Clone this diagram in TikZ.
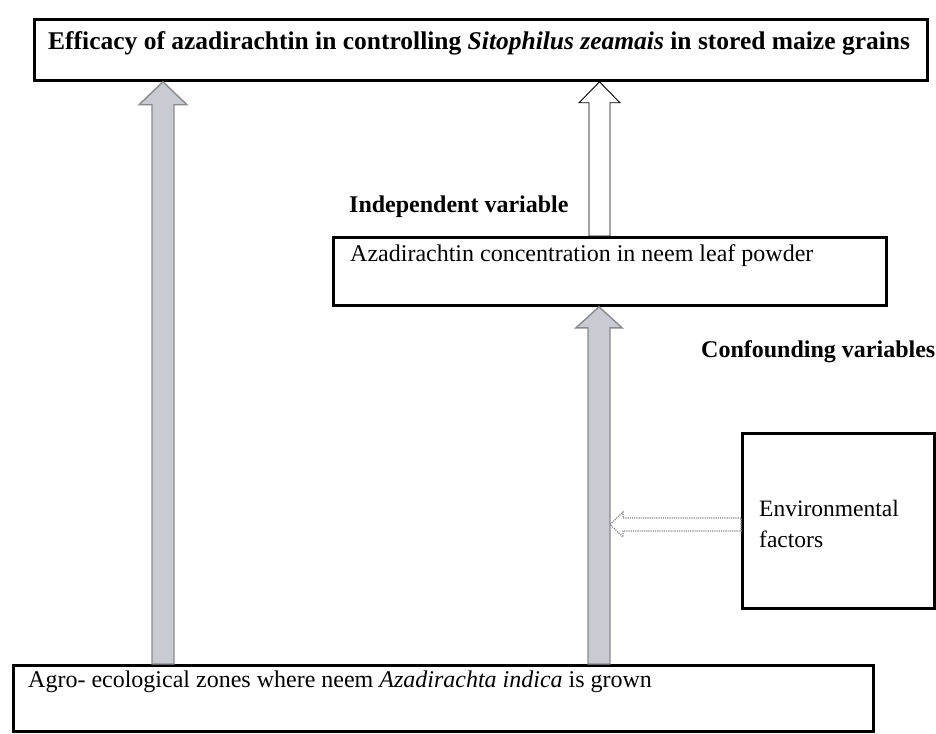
\documentclass[tikz,border=0pt]{standalone}
\usepackage{fontspec}
\setmainfont{Liberation Serif}
\usetikzlibrary{calc}
\newcommand\FatUp[6]{% style, from, tip, shaft half, head half, head length
  \draw[#1] let \p1=(#2), \p2=(#3) in
    (\x1-#4pt,\y1) -- (\x1-#4pt,\y2-#6pt) -- (\x1-#5pt,\y2-#6pt) -- (\x1,\y2)
    -- (\x1+#5pt,\y2-#6pt) -- (\x1+#4pt,\y2-#6pt) -- (\x1+#4pt,\y1) -- cycle;}
\newcommand\FatLeft[6]{% style, from, tip, shaft half, head half, head length
  \draw[#1] let \p1=(#2), \p2=(#3) in
    (\x1,\y1+#4pt) -- (\x2+#6pt,\y1+#4pt) -- (\x2+#6pt,\y1+#5pt) -- (\x2,\y1)
    -- (\x2+#6pt,\y1-#5pt) -- (\x2+#6pt,\y1-#4pt) -- (\x1,\y1-#4pt) -- cycle;}
\definecolor{arrfill}{HTML}{C9CBD2}
\definecolor{arredge}{HTML}{8A8A8A}
\begin{document}
\begin{tikzpicture}[x=1pt,y=-1pt,
  box/.style={draw=black,line width=2.8pt,fill=none,inner sep=0pt,anchor=north west},
  txt/.style={anchor=base west,inner sep=0pt,font=\fontsize{24}{28}\selectfont},
  btxt/.style={txt,font=\fontsize{24}{28}\selectfont\bfseries},
  grayarrow/.style={fill=arrfill,draw=arredge,line width=1.4pt,line join=miter},
  whitearrow/.style={fill=white,draw=black,line width=0.9pt,line join=miter},
  dotarrow/.style={fill=white,draw=arredge,line width=1.2pt,densely dotted,line join=miter}]
\useasboundingbox[fill=white] (0,0) rectangle (936,733);
% boxes
\node[box,minimum width=893pt,minimum height=61pt] (top) at (33,18) {};
\node[box,minimum width=553pt,minimum height=68pt] (mid) at (332,236) {};
\node[box,minimum width=192pt,minimum height=175pt] (env) at (741,432) {};
\node[box,minimum width=860pt,minimum height=66pt] (bottom) at (12,664) {};
% texts
\node[btxt,font=\fontsize{25.5}{29}\selectfont\bfseries] (ttitle) at (48,50) {Efficacy of azadirachtin in controlling \textit{Sitophilus zeamais} in stored maize grains};
\node[btxt] (indep) at (349,212) {Independent variable};
\node[txt] (tmid) at (350,261) {Azadirachtin concentration in neem leaf powder};
\node[btxt] (conf) at (701,357) {Confounding variables};
\node[txt,font=\fontsize{23.5}{27}\selectfont] (tenv1) at (759,516) {Environmental};
\node[txt,font=\fontsize{23.5}{27}\selectfont] (tenv2) at (759,547) {factors};
\node[txt] (tbottom) at (28,687) {Agro- ecological zones where neem \textit{Azadirachta indica} is grown};
% arrow positions
\coordinate (xa) at (163,0);
\coordinate (xb) at (599.5,0);
\coordinate (xc) at (599,0);
\coordinate (hy) at (0,524.5);
\coordinate (htip) at (610,524.5);
% arrows
\FatUp{grayarrow}{xa |- bottom.north}{xa |- top.south}{11}{24}{23}
\FatUp{whitearrow}{xb |- mid.north}{xb |- top.south}{10.5}{20.5}{21}
\FatUp{grayarrow}{xc |- bottom.north}{xc |- mid.south}{11}{23}{21}
\FatLeft{dotarrow}{env.west |- hy}{htip}{6.5}{12.5}{13}
\end{tikzpicture}
\end{document}
